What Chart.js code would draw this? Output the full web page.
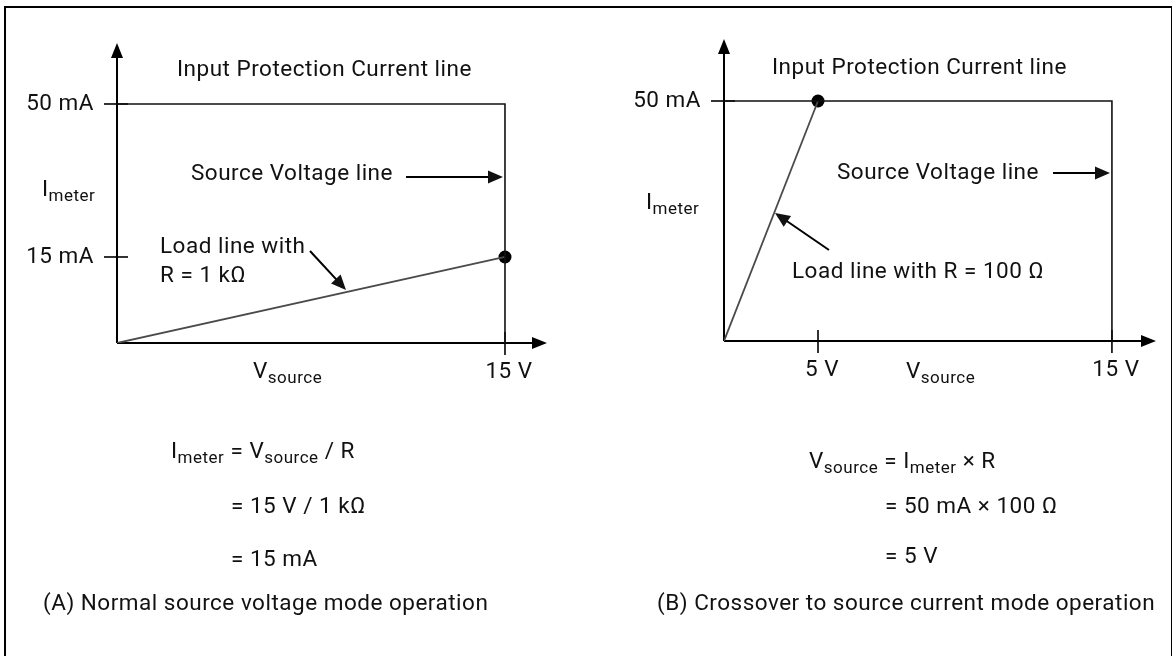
<!DOCTYPE html>
<html>
<head>
<meta charset="utf-8">
<script src="https://cdn.jsdelivr.net/npm/chart.js@4.4.1/dist/chart.umd.min.js"></script>
<style>
  html, body { margin: 0; padding: 0; background: #fff; }
  #page { position: relative; width: 1176px; height: 656px; overflow: hidden; background: #fff; }
  #frame { position: absolute; left: 4px; top: 6px; width: 1165px; height: 700px;
           border-left: 2px solid #000; border-top: 2px solid #000; border-right: 1px solid #000; }
  canvas { position: absolute; top: 0; }
  #chartA { left: 0; }
  #chartB { left: 588px; }
</style>
</head>
<body>
<div id="page">
  <div id="frame"></div>
  <canvas id="chartA" width="588" height="656"></canvas>
  <canvas id="chartB" width="588" height="656"></canvas>
</div>
<script>
// values (V in volts, I in mA)
const protectionCurrent = 50;
const sourceVoltage = 15;

const limitV = [0, sourceVoltage, sourceVoltage];
const limitI = [protectionCurrent, protectionCurrent, 0];

const loadA_V = [0, 15];
const loadA_I = [0, 15];
const pointA_V = [15];
const pointA_I = [15];

const loadB_V = [0, 5];
const loadB_I = [0, 50];
const pointB_V = [5];
const pointB_I = [50];

const ticksA_V = [15];
const ticksA_VLabels = ['15 V'];
const ticksA_I = [15, 50];
const ticksA_ILabels = ['15 mA', '50 mA'];

const ticksB_V = [5, 15];
const ticksB_VLabels = ['5 V', '15 V'];
const ticksB_I = [50];
const ticksB_ILabels = ['50 mA'];

const FONT = 'Roboto, "Liberation Sans", sans-serif';
const MAIN = '22.5px ' + FONT;
const SUB = '17px ' + FONT;

// linear scale whose value->position is piecewise (the drawing is not to scale)
class StopScale extends Chart.LinearScale {
  getPixelForValue(value) {
    const raw = this.chart.config.options.scales[this.id];
    const st = raw && raw.stops;
    if (!st || value == null) return super.getPixelForValue(value);
    let i = 1;
    while (i < st.length - 1 && value > st[i][0]) i++;
    const a = st[i - 1], b = st[i];
    return this.getPixelForDecimal(a[1] + (value - a[0]) * (b[1] - a[1]) / (b[0] - a[0]));
  }
}
StopScale.id = 'stops';
StopScale.defaults = Chart.LinearScale.defaults;
Chart.register(StopScale);

function pts(xs, ys) {
  return xs.map((x, i) => ({ x: x, y: ys[i] }));
}

function drawRich(ctx, x, y, parts, align) {
  ctx.letterSpacing = '0.5px';
  const widths = parts.map(p => { ctx.font = p[1] ? SUB : MAIN; return ctx.measureText(p[0]).width; });
  const total = widths.reduce((s, w) => s + w, 0);
  let cx = align === 'center' ? x - total / 2 : align === 'right' ? x - total : x;
  ctx.textAlign = 'left';
  ctx.textBaseline = 'middle';
  parts.forEach((p, i) => {
    ctx.font = p[1] ? SUB : MAIN;
    ctx.fillText(p[0], cx, p[1] ? y + 7 : y);
    cx += widths[i];
  });
  ctx.letterSpacing = '0px';
}

function arrow(ctx, x1, y1, x2, y2, len, half, width) {
  const ang = Math.atan2(y2 - y1, x2 - x1);
  ctx.beginPath();
  ctx.moveTo(x1, y1);
  ctx.lineTo(x2 - Math.cos(ang) * len * 0.8, y2 - Math.sin(ang) * len * 0.8);
  ctx.lineWidth = width;
  ctx.stroke();
  ctx.beginPath();
  ctx.moveTo(x2, y2);
  ctx.lineTo(x2 - Math.cos(ang) * len - Math.sin(ang) * half, y2 - Math.sin(ang) * len + Math.cos(ang) * half);
  ctx.lineTo(x2 - Math.cos(ang) * len + Math.sin(ang) * half, y2 - Math.sin(ang) * len - Math.cos(ang) * half);
  ctx.closePath();
  ctx.fill();
}

function diagramPlugin(spec) {
  return {
    id: 'diagram',
    beforeDatasetsDraw(chart) {
      const ctx = chart.ctx, a = chart.chartArea;
      const xs = chart.scales.x, ys = chart.scales.y;
      const ox = xs.getPixelForValue(0), oy = ys.getPixelForValue(0);
      ctx.save();
      ctx.strokeStyle = '#000';
      ctx.fillStyle = '#000';
      ctx.lineCap = 'butt';
      // axes with arrow heads
      arrow(ctx, ox, oy, ox, a.top, 15, 6, 2);
      arrow(ctx, ox, oy, a.right, oy, 15, 6, 2);
      // tick marks
      ctx.lineWidth = 1.6;
      spec.yTicks.forEach(v => {
        const y = ys.getPixelForValue(v);
        ctx.beginPath(); ctx.moveTo(ox - 13, y); ctx.lineTo(ox + 11, y); ctx.stroke();
      });
      spec.xTicks.forEach(v => {
        const x = xs.getPixelForValue(v);
        ctx.beginPath(); ctx.moveTo(x, oy - 11); ctx.lineTo(x, oy + 12); ctx.stroke();
      });
      // tick labels
      ctx.fillStyle = '#111';
      spec.yTicks.forEach((v, i) => drawRich(ctx, ox - 23, ys.getPixelForValue(v), [[spec.yLabels[i]]], 'right'));
      spec.xTicks.forEach((v, i) => drawRich(ctx, xs.getPixelForValue(v) + 4, oy + 29, [[spec.xLabels[i]]], 'center'));
      ctx.restore();
    },
    afterDraw(chart) {
      const ctx = chart.ctx;
      ctx.save();
      ctx.fillStyle = '#111';
      ctx.strokeStyle = '#000';
      spec.texts.forEach(t => drawRich(ctx, t.x, t.y, t.parts, t.align || 'left'));
      spec.arrows.forEach(r => arrow(ctx, r[0], r[1], r[2], r[3], 15, 6.5, 2));
      ctx.restore();
    }
  };
}

function makeChart(id, load, point, stopsX, stopsY, pad, spec) {
  return new Chart(document.getElementById(id), {
    type: 'scatter',
    data: {
      datasets: [
        {
          label: 'Protection current / source voltage limit',
          data: pts(limitV, limitI),
          showLine: true,
          borderColor: '#111',
          borderWidth: 1.6,
          pointRadius: 0,
          fill: false
        },
        {
          label: 'Load line',
          data: load,
          showLine: true,
          borderColor: '#4a4a4a',
          borderWidth: 1.8,
          pointRadius: 0,
          fill: false
        },
        {
          label: 'Operating point',
          data: point,
          pointRadius: 6.5,
          backgroundColor: '#000',
          borderColor: '#000',
          borderWidth: 0
        }
      ]
    },
    options: {
      responsive: false,
      animation: false,
      events: [],
      layout: { padding: pad },
      plugins: { legend: { display: false }, tooltip: { enabled: false } },
      scales: {
        x: { type: 'stops', display: false, min: 0, max: 16, stops: stopsX },
        y: { type: 'stops', display: false, min: 0, max: 60, stops: stopsY }
      }
    },
    plugins: [diagramPlugin(spec)]
  });
}

const IMETER = [['I'], ['meter', true]];
const VSOURCE = [['V'], ['source', true]];

makeChart('chartA', pts(loadA_V, loadA_I), pts(pointA_V, pointA_I),
  [[0, 0], [15, 0.9023]],
  [[0, 0], [15, 0.2867], [50, 0.7967]],
  { left: 117, top: 43, right: 41, bottom: 313 },
  {
    xTicks: ticksA_V, xLabels: ticksA_VLabels,
    yTicks: ticksA_I, yLabels: ticksA_ILabels,
    texts: [
      { x: 177, y: 70, parts: [['Input Protection Current line']] },
      { x: 191, y: 174, parts: [['Source Voltage line']] },
      { x: 42, y: 190, parts: IMETER },
      { x: 160, y: 247, parts: [['Load line with']] },
      { x: 160, y: 276, parts: [['R = 1 k\u03A9']] },
      { x: 253, y: 372, parts: VSOURCE },
      { x: 171, y: 452, parts: IMETER.concat([[' = V']], [['source', true]], [[' / R']]) },
      { x: 231, y: 507, parts: [['= 15 V / 1 k\u03A9']] },
      { x: 231, y: 560, parts: [['= 15 mA']] },
      { x: 43, y: 604, parts: [['(A) Normal source voltage mode operation']] }
    ],
    arrows: [[406, 177, 503, 177], [310, 251, 346, 290]]
  });

makeChart('chartB', pts(loadB_V, loadB_I), pts(pointB_V, pointB_I),
  [[0, 0], [5, 0.2176], [15, 0.898]],
  [[0, 0], [50, 0.7947]],
  { left: 136, top: 39, right: 20, bottom: 315 },
  {
    xTicks: ticksB_V, xLabels: ticksB_VLabels,
    yTicks: ticksB_I, yLabels: ticksB_ILabels,
    texts: [
      { x: 184, y: 68, parts: [['Input Protection Current line']] },
      { x: 249, y: 173, parts: [['Source Voltage line']] },
      { x: 58, y: 203, parts: IMETER },
      { x: 204, y: 272, parts: [['Load line with R = 100 \u03A9']] },
      { x: 318, y: 372, parts: VSOURCE },
      { x: 221, y: 462, parts: VSOURCE.concat([[' = I']], [['meter', true]], [[' \u00D7 R']]) },
      { x: 297, y: 507, parts: [['= 50 mA \u00D7 100 \u03A9']] },
      { x: 297, y: 557, parts: [['= 5 V']] },
      { x: 69, y: 604, parts: [['(B) Crossover to source current mode operation']] }
    ],
    arrows: [[465, 173, 522, 173], [241, 250, 187, 213]]
  });
</script>
</body>
</html>
